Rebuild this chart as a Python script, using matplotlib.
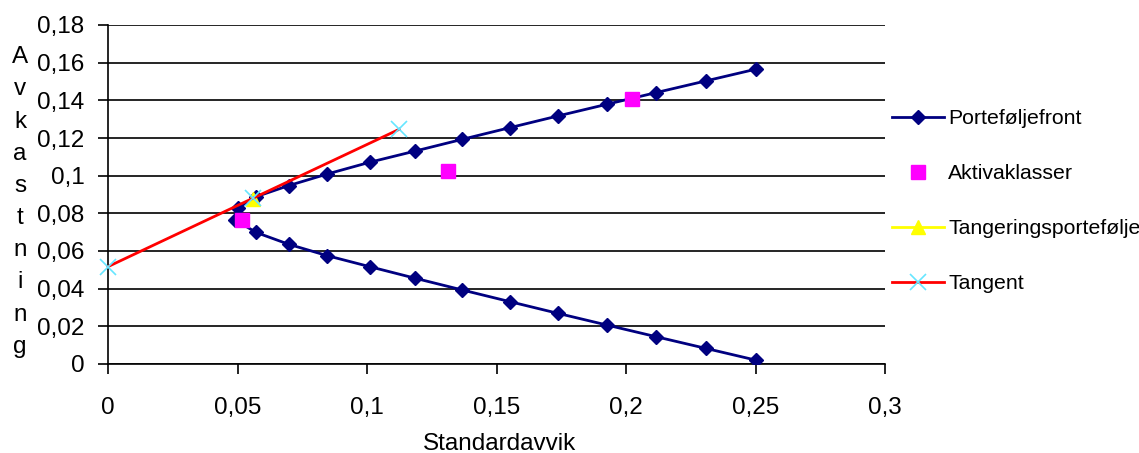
import matplotlib
matplotlib.use("Agg")
from matplotlib import pyplot as plt
from matplotlib.ticker import FuncFormatter

plt.rcParams['font.family'] = ['Liberation Sans', 'DejaVu Sans']

# efficient frontier (standard deviation, return), top to bottom
front_sd = [0.2500, 0.2308, 0.2116, 0.1926, 0.1737, 0.1552, 0.1368, 0.1187, 0.1010,
            0.0847, 0.0697, 0.0571, 0.0500, 0.0492, 0.0571, 0.0697, 0.0847, 0.1010,
            0.1187, 0.1368, 0.1552, 0.1737, 0.1926, 0.2116, 0.2308, 0.2500]
front_ret = [0.1565, 0.1503, 0.1441, 0.1379, 0.1317, 0.1255, 0.1193, 0.1131, 0.1071,
             0.1009, 0.0947, 0.0888, 0.0827, 0.0765, 0.0699, 0.0636, 0.0575, 0.0517,
             0.0455, 0.0393, 0.0331, 0.0269, 0.0207, 0.0145, 0.0083, 0.0021]

# asset classes
asset_sd = [0.0518, 0.1314, 0.2022]
asset_ret = [0.0765, 0.1027, 0.1409]

# tangency portfolio
tan_pf_sd = [0.0561]
tan_pf_ret = [0.0876]

# tangent line (capital market line)
tangent_sd = [0.0, 0.0561, 0.1124]
tangent_ret = [0.0517, 0.0881, 0.1246]

x_ticks = [0, 0.05, 0.1, 0.15, 0.2, 0.25, 0.3]
y_ticks = [0, 0.02, 0.04, 0.06, 0.08, 0.1, 0.12, 0.14, 0.16, 0.18]


def comma(v, pos):
    s = ('%.2f' % v).rstrip('0').rstrip('.')
    return s.replace('.', ',')


fig = plt.figure(figsize=(11.39, 4.53), dpi=100)
ax = fig.add_axes([108/1139, 1 - 364/453, (885-108)/1139, (364-25)/453])

ax.plot(front_sd, front_ret, color='#000080', marker='D', markersize=7.5,
        linewidth=2, label='Porteføljefront', zorder=3)
ax.plot(asset_sd, asset_ret, linestyle='none', color='#ff00ff', marker='s',
        markersize=10, label='Aktivaklasser', zorder=4)
ax.plot(tan_pf_sd, tan_pf_ret, color='#ffff00', marker='^', markersize=10,
        linewidth=2, label='Tangeringsportefølje', zorder=5)
ax.plot(tangent_sd, tangent_ret, color='#ff0000', marker='x', markersize=11,
        markeredgecolor='#66e6ff', markeredgewidth=1.2, linewidth=2,
        label='Tangent', zorder=6, clip_on=False)

ax.set_xlim(0, 0.3)
ax.set_ylim(0, 0.18)
ax.set_xticks(x_ticks)
ax.set_yticks(y_ticks)
ax.xaxis.set_major_formatter(FuncFormatter(comma))
ax.yaxis.set_major_formatter(FuncFormatter(comma))
ax.tick_params(axis='both', labelsize=17.5, color='black', length=7, width=1.2)
ax.tick_params(axis='x', pad=17)
ax.tick_params(axis='y', pad=10)

ax.grid(axis='y', color='black', linewidth=1.2)
ax.set_axisbelow(True)
for s in ['top', 'right']:
    ax.spines[s].set_visible(False)
for s in ['left', 'bottom']:
    ax.spines[s].set_linewidth(1.2)

fig.text(500/1139, 1 - 444/453, 'Standardavvik', ha='center', va='center', fontsize=17.5)
fig.text(20/1139, 1 - 202/453, '\n'.join('Avkastning'), ha='center', va='center',
         fontsize=17.5, linespacing=1.6)

ax.legend(loc='upper left', bbox_to_anchor=(883/1139, 1 - 101/453),
          bbox_transform=fig.transFigure, frameon=False, fontsize=15.3,
          handlelength=2.45, handletextpad=0.22, labelspacing=1.69, borderaxespad=0)

plt.savefig('out.png', dpi=100)
